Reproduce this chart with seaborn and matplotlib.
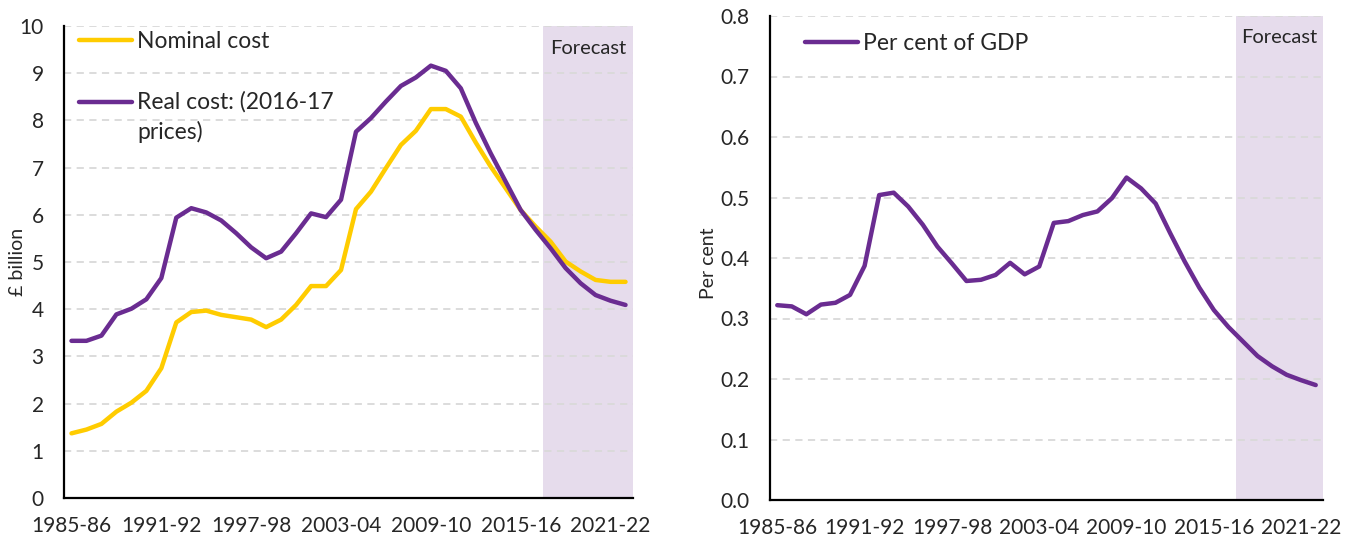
import matplotlib
matplotlib.use("Agg")
import matplotlib.pyplot as plt
from matplotlib.legend_handler import HandlerLine2D
from matplotlib.lines import Line2D
import seaborn as sns
import numpy as np
import pandas as pd

# ---------------- data ----------------
years = [f"{y}-{str(y + 1)[-2:]}" for y in range(1985, 2023)]  # 1985-86 .. 2022-23

nominal_cost = [1.37, 1.45, 1.57, 1.83, 2.02, 2.27, 2.75, 3.72, 3.94, 3.97,
                3.88, 3.83, 3.78, 3.62, 3.78, 4.09, 4.49, 4.49, 4.83, 6.12,
                6.49, 6.99, 7.48, 7.78, 8.24, 8.24, 8.08, 7.53, 7.02, 6.56,
                6.10, 5.75, 5.43, 5.01, 4.80, 4.62, 4.58, 4.58]

real_cost = [3.33, 3.33, 3.44, 3.89, 4.01, 4.21, 4.66, 5.94, 6.14, 6.05,
             5.88, 5.61, 5.31, 5.08, 5.22, 5.61, 6.03, 5.95, 6.32, 7.76,
             8.05, 8.40, 8.73, 8.91, 9.16, 9.05, 8.68, 7.95, 7.30, 6.70,
             6.10, 5.68, 5.29, 4.87, 4.55, 4.30, 4.18, 4.09]

pct_gdp = [0.322, 0.320, 0.307, 0.323, 0.326, 0.339, 0.387, 0.504, 0.508, 0.485,
           0.455, 0.419, 0.391, 0.362, 0.364, 0.372, 0.392, 0.373, 0.386, 0.458,
           0.461, 0.471, 0.477, 0.499, 0.533, 0.515, 0.490, 0.441, 0.394, 0.351,
           0.314, 0.286, 0.262, 0.238, 0.221, 0.207, 0.198, 0.190]

forecast_start = "2017-18"
tick_labels = ["1985-86", "1991-92", "1997-98", "2003-04", "2009-10", "2015-16", "2021-22"]

left_series = ["Nominal cost", "Real cost: (2016-17\nprices)"]
right_series = ["Per cent of GDP"]
# --------------------------------------

YELLOW = "#FFCC00"
PURPLE = "#6A2C91"
SHADE = "#E6DCEC"
GRID = "#D9D9D9"

sns.set_theme(style="white")
plt.rcParams["font.family"] = ["Lato", "DejaVu Sans"]

idx = np.arange(len(years))
df_left = pd.DataFrame({
    "pos": np.concatenate([idx, idx]),
    "value": nominal_cost + real_cost,
    "series": [left_series[0]] * len(years) + [left_series[1]] * len(years),
})
df_right = pd.DataFrame({"pos": idx, "value": pct_gdp, "series": right_series[0]})

fig = plt.figure(figsize=(13.54, 5.36), dpi=100)
axL = fig.add_axes([64 / 1354, 1 - 498 / 536, 569 / 1354, 472 / 536])
axR = fig.add_axes([770 / 1354, 1 - 500 / 536, 553 / 1354, 484 / 536])

fs_tick = 15
fs_leg = 16.5


class ShiftedLine(HandlerLine2D):
    """Legend line handle moved up so it lines up with the first text line."""
    def __init__(self, dy, **kw):
        super().__init__(**kw)
        self.dy = dy

    def create_artists(self, legend, orig_handle, xdescent, ydescent, width,
                       height, fontsize, trans):
        arts = super().create_artists(legend, orig_handle, xdescent, ydescent,
                                      width, height, fontsize, trans)
        for a in arts:
            if isinstance(a, Line2D):
                a.set_ydata(np.asarray(a.get_ydata()) + self.dy)
        return arts


def style_axis(ax, ymax, ystep, fmt):
    n = len(years)
    ax.set_xlim(-0.5, n - 0.5)
    ax.set_ylim(0, ymax)
    fstart = years.index(forecast_start) - 0.5
    ax.axvspan(fstart, n - 0.5, color=SHADE, lw=0, zorder=0)
    yt = np.round(np.arange(0, ymax + ystep / 2, ystep), 3)
    ax.set_yticks(yt)
    ax.set_yticklabels([fmt.format(v) for v in yt], fontsize=fs_tick)
    for v in yt[1:]:
        ax.axhline(v, color=GRID, lw=1.3, ls=(0, (4, 3)), zorder=0.5)
    ax.set_xticks([years.index(t) for t in tick_labels])
    ax.set_xticklabels(tick_labels, fontsize=fs_tick)
    ax.set_xticks(np.arange(-0.5, n, 1.0), minor=True)
    ax.tick_params(axis="x", which="major", length=0, pad=13)
    ax.tick_params(axis="x", which="minor", length=6, width=1.5, color="black", direction="out")
    ax.tick_params(axis="y", which="major", length=6, width=1.5, color="black", direction="out", pad=8.6)
    for s in ["top", "right"]:
        ax.spines[s].set_visible(False)
    for s in ["left", "bottom"]:
        ax.spines[s].set_color("black")
        ax.spines[s].set_linewidth(1.6)
        ax.spines[s].set_zorder(5)
    ax.grid(False)
    ax.set_xlabel("")


sns.lineplot(data=df_left, x="pos", y="value", hue="series",
             palette=[YELLOW, PURPLE], linewidth=3.2, ax=axL, zorder=3)
sns.lineplot(data=df_right, x="pos", y="value", hue="series",
             palette=[PURPLE], linewidth=3.2, ax=axR, zorder=3)

style_axis(axL, 10, 1, "{:.0f}")
style_axis(axR, 0.8, 0.1, "{:.1f}")

axL.set_ylabel("£ billion", fontsize=14, va="center")
axL.yaxis.set_label_coords((17.5 - 64) / 569, 0.5)
axR.set_ylabel("Per cent", fontsize=14, va="center")
axR.yaxis.set_label_coords((708 - 770) / 553, 0.49)

# left legend (rebuilt from seaborn's handles)
old = axL.get_legend()
hL = list(old.legend_handles)
lL = [t.get_text() for t in old.get_texts()]
old.remove()
legL = axL.legend(hL, lL, loc="upper left", bbox_to_anchor=(0.0105, 1.008), frameon=False,
                  fontsize=fs_leg, handlelength=2.3, handletextpad=0.22, labelspacing=1.68,
                  borderaxespad=0.0, handler_map={hL[1]: ShiftedLine(10.8)})
for t in legL.get_texts():
    t.set_linespacing(1.45)

axR.legend(loc="upper left", bbox_to_anchor=(0.047, 0.984), frameon=False, fontsize=fs_leg,
           handlelength=2.3, handletextpad=0.22, borderaxespad=0.0)

nL = len(years)
fx = (years.index(forecast_start) - 0.5 + nL - 0.5) / 2
axL.text(fx, 9.53, "Forecast", ha="center", va="center", fontsize=14.5)
axR.text(fx, 0.764, "Forecast", ha="center", va="center", fontsize=14.5)

fig.savefig("out.png", dpi=100)
